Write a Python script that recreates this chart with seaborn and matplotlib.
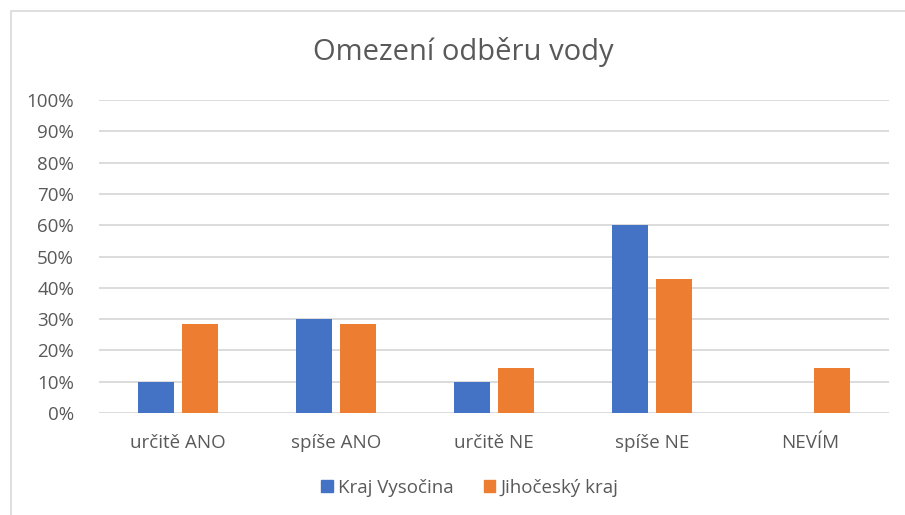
import matplotlib
matplotlib.use("Agg")
import matplotlib.pyplot as plt
import seaborn as sns
import pandas as pd
from matplotlib.patches import Rectangle
from matplotlib.ticker import PercentFormatter

categories = ["určitě ANO", "spíše ANO", "určitě NE", "spíše NE", "NEVÍM"]
series_names = ["Kraj Vysočina", "Jihočeský kraj"]
vysocina = [0.10, 0.30, 0.10, 0.60, 0.0]
jihocesky = [0.2857, 0.2857, 0.1429, 0.4286, 0.1429]
colors = ["#4472C4", "#ED7D31"]
y_ticks = [0, 0.1, 0.2, 0.3, 0.4, 0.5, 0.6, 0.7, 0.8, 0.9, 1.0]

df = pd.DataFrame({
    "kategorie": categories * 2,
    "serie": [series_names[0]] * len(categories) + [series_names[1]] * len(categories),
    "hodnota": vysocina + jihocesky,
})

sns.set_theme(style="white")
plt.rcParams["font.family"] = ["Open Sans", "DejaVu Sans"]
text_color = "#595959"

fig = plt.figure(figsize=(9.05, 5.15), dpi=100)
ax = fig.add_axes([99 / 905, 1 - 413 / 515, 790 / 905, 313 / 515])

sns.barplot(data=df, x="kategorie", y="hodnota", hue="serie", order=categories,
            hue_order=series_names, palette=colors, width=0.56, gap=0.2,
            saturation=1, ax=ax, legend=False, errorbar=None, linewidth=0)

ax.set_ylim(0, 1)
ax.set_xlim(-0.5, len(categories) - 0.5)
ax.set_yticks(y_ticks)
ax.yaxis.set_major_formatter(PercentFormatter(1.0, decimals=0))
ax.grid(axis="y", color="#D9D9D9", linewidth=1.3)
ax.set_axisbelow(True)
for s in ax.spines.values():
    s.set_visible(False)
ax.tick_params(axis="both", length=0, labelsize=13.5, colors=text_color)
ax.tick_params(axis="y", pad=18)
ax.tick_params(axis="x", pad=15)
ax.set_xlabel("")
ax.set_ylabel("")

fig.text(463 / 905, 1 - 52 / 515, "Omezení odběru vody", ha="center", va="center",
         fontsize=21, color=text_color)

handles = [Rectangle((0, 0), 1, 1, color=c) for c in colors]
fig.legend(handles, series_names, loc="center", bbox_to_anchor=(470 / 905, 1 - 488 / 515),
           ncol=2, frameon=False, fontsize=13.5, labelcolor=text_color,
           handlelength=0.6, handleheight=0.6, handletextpad=0.3, columnspacing=1.6)

fig.patches.append(Rectangle((11 / 905, -0.1), 1.2, 1 - 11 / 515 + 0.1,
                             transform=fig.transFigure, fill=False,
                             edgecolor="#D9D9D9", linewidth=1.2))

fig.savefig("out.png", dpi=100)
